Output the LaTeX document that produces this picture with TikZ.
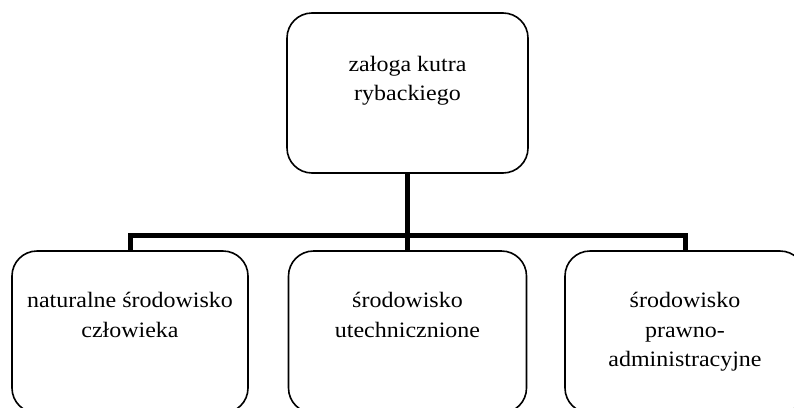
\documentclass[tikz,border=0pt]{standalone}
\usepackage{fontspec}
\setmainfont[FakeStretch=1.09]{Liberation Serif}
\tikzset{
  box/.style={draw=black, line width=1.6pt, rounded corners=25pt, inner sep=0pt, fill=white},
  txt/.style={inner sep=0pt, anchor=base, font=\fontsize{22}{29.5}\selectfont},
  conn/.style={draw=black, line width=5pt, line join=miter, line cap=butt}
}
\newcommand{\boxtext}[1]{\parbox[t]{230pt}{\centering #1}}
\begin{document}
\begin{tikzpicture}[x=1pt, y=-1pt]
\useasboundingbox (0,0) rectangle (794,407);
\clip (0,0) rectangle (794,407);
\fill[white] (0,0) rectangle (794,407);
% boxes
\node[box, minimum width=241pt, minimum height=160pt] (top) at (407.5,93) {};
\node[box, minimum width=236pt, minimum height=162pt] (left) at (130,332) {};
\node[box, minimum width=238pt, minimum height=162pt] (mid) at (407.5,332) {};
\node[box, minimum width=240pt, minimum height=162pt] (right) at (685,332) {};
\coordinate (bus) at (407.5,235);
% connectors
\draw[conn] (top.south) -- (mid.north);
\draw[conn] (left.north) -- (left.north |- bus) -- (right.north |- bus) -- (right.north);
% texts
\node[txt] (ttop) at (407.5,71) {\boxtext{załoga kutra\\rybackiego}};
\node[txt] (tleft) at (130,307.5) {\boxtext{naturalne środowisko\\człowieka}};
\node[txt] (tmid) at (407.5,307.5) {\boxtext{środowisko\\utechnicznione}};
\node[txt] (tright) at (685,307.5) {\boxtext{środowisko\\prawno-\\administracyjne}};
\end{tikzpicture}
\end{document}
